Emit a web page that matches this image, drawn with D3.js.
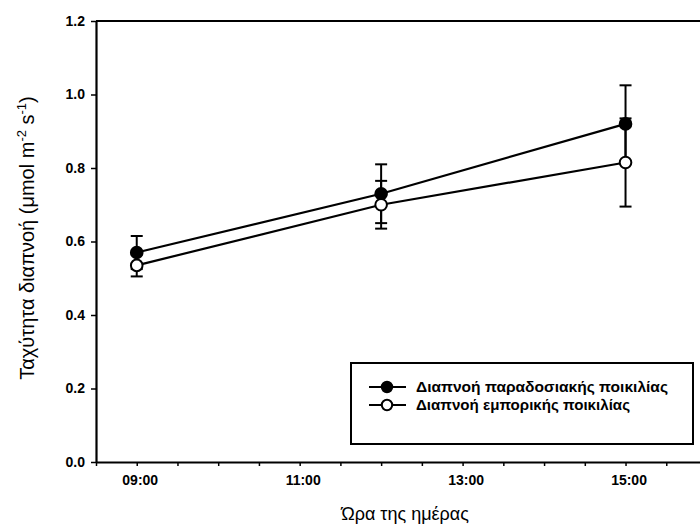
<!DOCTYPE html>
<html>
<head>
<meta charset="utf-8">
<script src="https://cdn.jsdelivr.net/npm/d3@7"></script>
<style>
  body { margin: 0; background: #fff; }
  svg { display: block; font-family: "Liberation Sans", Arial, sans-serif; }
</style>
</head>
<body>
<div id="chart"></div>
<script>
// Ταχύτητα διαπνοής ανά ώρα - δύο ποικιλίες, με error bars

const hours = [9, 12, 15];
const tradMean = [0.57, 0.73, 0.92];
const tradErr = [0.045, 0.08, 0.105];
const commMean = [0.535, 0.70, 0.815];
const commErr = [0.03, 0.065, 0.12];

const xTickValues = [9, 11, 13, 15];
const xTickLabels = ["09:00", "11:00", "13:00", "15:00"];
const yTickValues = [0, 0.2, 0.4, 0.6, 0.8, 1.0, 1.2];

const seriesNames = ["Διαπνοή παραδοσιακής ποικιλίας", "Διαπνοή εμπορικής ποικιλίας"];

const width = 700, height = 526;
const svg = d3.select("#chart").append("svg")
  .attr("width", width)
  .attr("height", height);

// Echelles
const x = d3.scaleLinear().domain([8.5, 16]).range([96, 707]);
const y = d3.scaleLinear().domain([0, 1.2]).range([462, 21]);

// Cadre (haut)
svg.append("line")
  .attr("x1", x(8.5)).attr("x2", x(16))
  .attr("y1", y(1.2)).attr("y2", y(1.2))
  .attr("stroke", "#000").attr("stroke-width", 2);

// Axe X : ticks toutes les 30 min, labels aux heures impaires
const xAxis = svg.append("g")
  .attr("transform", `translate(0,${y(0)})`)
  .call(d3.axisBottom(x)
    .tickValues(d3.range(8.5, 16.01, 0.5))
    .tickSize(4)
    .tickSizeOuter(0)
    .tickFormat(d => {
      const i = xTickValues.indexOf(d);
      return i >= 0 ? xTickLabels[i] : "";
    }));
xAxis.select(".domain").attr("stroke-width", 2.2);
xAxis.selectAll(".tick line").attr("stroke-width", 1.5);
xAxis.selectAll("text")
  .attr("font-size", 14)
  .attr("font-weight", "bold")
  .attr("dx", 3)
  .attr("dy", "1.15em")
  .attr("fill", "#000");

// Axe Y
const yAxis = svg.append("g")
  .attr("transform", `translate(${x(8.5)},0)`)
  .call(d3.axisLeft(y)
    .tickValues(yTickValues)
    .tickSize(5)
    .tickSizeOuter(0)
    .tickFormat(d3.format(".1f")));
yAxis.select(".domain").attr("stroke-width", 2.2);
yAxis.selectAll(".tick line").attr("stroke-width", 1.5);
yAxis.selectAll("text")
  .attr("font-size", 14)
  .attr("font-weight", "bold")
  .attr("x", -11)
  .attr("fill", "#000");

// Titres
svg.append("text")
  .attr("x", 405).attr("y", 520)
  .attr("text-anchor", "middle")
  .attr("font-size", 18)
  .text("Ώρα της ημέρας");

const yTitle = svg.append("text")
  .attr("transform", `translate(34,238) rotate(-90)`)
  .attr("text-anchor", "middle")
  .attr("font-size", 20);
yTitle.append("tspan").text("Ταχύτητα διαπνοή (μmol m");
yTitle.append("tspan").attr("font-size", 13).attr("dy", -8).text("-2");
yTitle.append("tspan").attr("dy", 8).text(" s");
yTitle.append("tspan").attr("font-size", 13).attr("dy", -8).text("-1");
yTitle.append("tspan").attr("dy", 8).text(")");

// Series
const series = [
  { name: seriesNames[0], mean: tradMean, err: tradErr, fill: "#000", textLen: 252 },
  { name: seriesNames[1], mean: commMean, err: commErr, fill: "#fff", textLen: 214 }
];
const cap = 6;

// Error bars
series.forEach(s => {
  const g = svg.append("g").attr("stroke", "#000").attr("stroke-width", 2);
  hours.forEach((h, i) => {
    const lo = s.mean[i] - s.err[i], hi = s.mean[i] + s.err[i];
    g.append("line").attr("x1", x(h)).attr("x2", x(h)).attr("y1", y(lo)).attr("y2", y(hi));
    g.append("line").attr("x1", x(h) - cap).attr("x2", x(h) + cap).attr("y1", y(lo)).attr("y2", y(lo));
    g.append("line").attr("x1", x(h) - cap).attr("x2", x(h) + cap).attr("y1", y(hi)).attr("y2", y(hi));
  });
});

// Lignes
const line = d3.line().x(d => x(d[0])).y(d => y(d[1]));
series.forEach(s => {
  svg.append("path")
    .datum(hours.map((h, i) => [h, s.mean[i]]))
    .attr("d", line)
    .attr("fill", "none")
    .attr("stroke", "#000")
    .attr("stroke-width", 2.2);
});

// Marqueurs
series.forEach(s => {
  svg.append("g").selectAll("circle")
    .data(hours.map((h, i) => [h, s.mean[i]]))
    .enter()
    .append("circle")
    .attr("cx", d => x(d[0]))
    .attr("cy", d => y(d[1]))
    .attr("r", 5.8)
    .attr("fill", s.fill)
    .attr("stroke", "#000")
    .attr("stroke-width", 2);
});

// Legende
const leg = svg.append("g");
leg.append("rect")
  .attr("x", 351).attr("y", 363)
  .attr("width", 342).attr("height", 81)
  .attr("fill", "#fff")
  .attr("stroke", "#000")
  .attr("stroke-width", 2);
series.forEach((s, i) => {
  const ly = 387 + i * 18;
  leg.append("line")
    .attr("x1", 369).attr("x2", 406)
    .attr("y1", ly).attr("y2", ly)
    .attr("stroke", "#000").attr("stroke-width", 2);
  leg.append("circle")
    .attr("cx", 387).attr("cy", ly).attr("r", 5.2)
    .attr("fill", s.fill).attr("stroke", "#000").attr("stroke-width", 2);
  leg.append("text")
    .attr("x", 416).attr("y", ly + 5)
    .attr("font-size", 14)
    .attr("font-weight", "bold")
    .attr("textLength", s.textLen)
    .attr("lengthAdjust", "spacingAndGlyphs")
    .text(s.name);
});
</script>
</body>
</html>
